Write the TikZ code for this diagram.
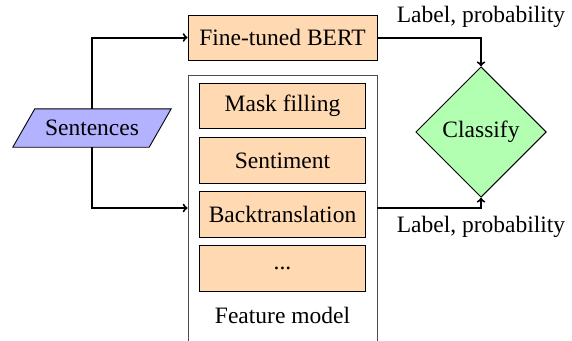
\documentclass[tikz,border=0pt]{standalone}
\usepackage{fontspec}
\setmainfont{Liberation Serif}
\usetikzlibrary{shapes.geometric}
\begin{document}
\begin{tikzpicture}[x=1pt,y=-1pt,
  font=\fontsize{23.5}{28}\selectfont,
  flow/.style={->,line width=2pt},
  modelbox/.style={draw,line width=0.9pt,fill=orange!30,inner sep=0pt},
  plain/.style={inner sep=0pt}]
\useasboundingbox (0,0) rectangle (572,340);
\clip (0,0) rectangle (572,340);

% input sentences (parallelogram drawn around a plain node)
\node[plain,minimum width=136pt,minimum height=38pt] (sent) at (92,128) {Sentences};
\draw[line width=0.9pt,fill=blue!30] ([xshift=11pt]sent.north west) -- ([xshift=11pt]sent.north east)
  -- ([xshift=-11pt]sent.south east) -- ([xshift=-11pt]sent.south west) -- cycle;
\node[plain] at (sent) {Sentences};

% fine-tuned model
\node[modelbox,minimum width=189pt,minimum height=45pt] (bert) at (282.5,37.5) {Fine-tuned BERT};

% feature model container
\node[draw=black!70,line width=0.9pt,minimum width=189pt,minimum height=266pt,inner sep=0pt] (feat) at (282.5,208) {};
\node[modelbox,minimum width=166pt,minimum height=45.5pt] (mask) at (282.5,106) {Mask filling};
\node[modelbox,minimum width=166pt,minimum height=45.5pt] (sentiment) at (282.5,160.5) {Sentiment};
\node[modelbox,minimum width=166pt,minimum height=45.5pt] (back) at (282.5,214.5) {Backtranslation};
\node[modelbox,minimum width=166pt,minimum height=45.5pt] (more) at (282.5,268.5) {...};
\node[plain,anchor=base] (featlbl) at (282.5,323) {Feature model};

% classifier
\node[diamond,draw,line width=0.9pt,fill=green!30,minimum width=130.6pt,minimum height=130.6pt,inner sep=0pt] (cls) at (481,132) {Classify};

% connectors
\draw[flow] (sent.north) |- (bert.west);
\draw[flow] (sent.south) |- (feat.west);
\draw[flow] (bert.east) -| (cls.north);
\draw[flow] (feat.east) -| (cls.south);

% output labels
\node[plain,anchor=base] (toplbl) at (481,22.7) {Label, probability};
\node[plain,anchor=base] (botlbl) at (481,232.7) {Label, probability};
\end{tikzpicture}
\end{document}
